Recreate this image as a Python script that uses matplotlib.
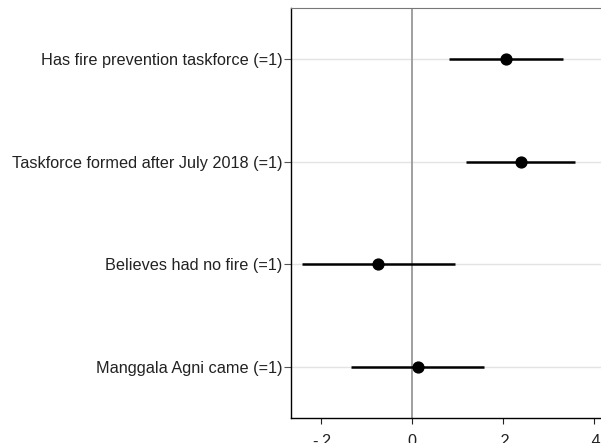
import matplotlib
matplotlib.use("Agg")
import matplotlib.pyplot as plot

labels = [
    "Has fire prevention taskforce (=1)",
    "Taskforce formed after July 2018 (=1)",
    "Believes had no fire (=1)",
    "Manggala Agni came (=1)",
]
coef = [0.205, 0.238, -0.075, 0.012]
ci_low = [0.080, 0.119, -0.243, -0.134]
ci_high = [0.331, 0.358, 0.094, 0.157]
xticks = [-0.2, 0, 0.2, 0.4]
xtick_labels = ["-.2", "0", ".2", ".4"]

plot.rcParams["font.family"] = ["Liberation Sans", "DejaVu Sans"]
plot.rcParams["font.size"] = 11.7

figure = plot.figure(figsize=(6.01, 4.43), dpi=100)
axes = figure.add_axes([0.4847, 0.0558, 0.5153, 0.9262])

rows = list(range(1, len(labels) + 1))
for y in rows:
    axes.axhline(y, color="#e3e3e3", lw=1.0, zorder=0)
axes.axvline(0, color="#999999", lw=1.3, zorder=1)

axes.hlines(rows, ci_low, ci_high, color="black", lw=1.8, zorder=2)
axes.plot(coef, rows, "o", color="black", markersize=7.8, zorder=3)

axes.set_ylim(4.5, 0.5)
axes.set_xlim(-0.266, 0.4147)
axes.set_yticks(rows)
axes.set_yticklabels(labels, color="#222222")
axes.set_xticks(xticks)
axes.set_xticklabels(xtick_labels, color="#222222")
axes.tick_params(axis="y", length=5, width=0.8, color="#555555", pad=1.5)
axes.tick_params(axis="x", length=4.5, width=0.8, color="#222222", pad=7)

axes.spines["right"].set_visible(False)
axes.spines["top"].set_color("#777777")
axes.spines["left"].set_linewidth(1.0)
axes.spines["bottom"].set_linewidth(1.0)

figure.savefig("out.png", dpi=100)
